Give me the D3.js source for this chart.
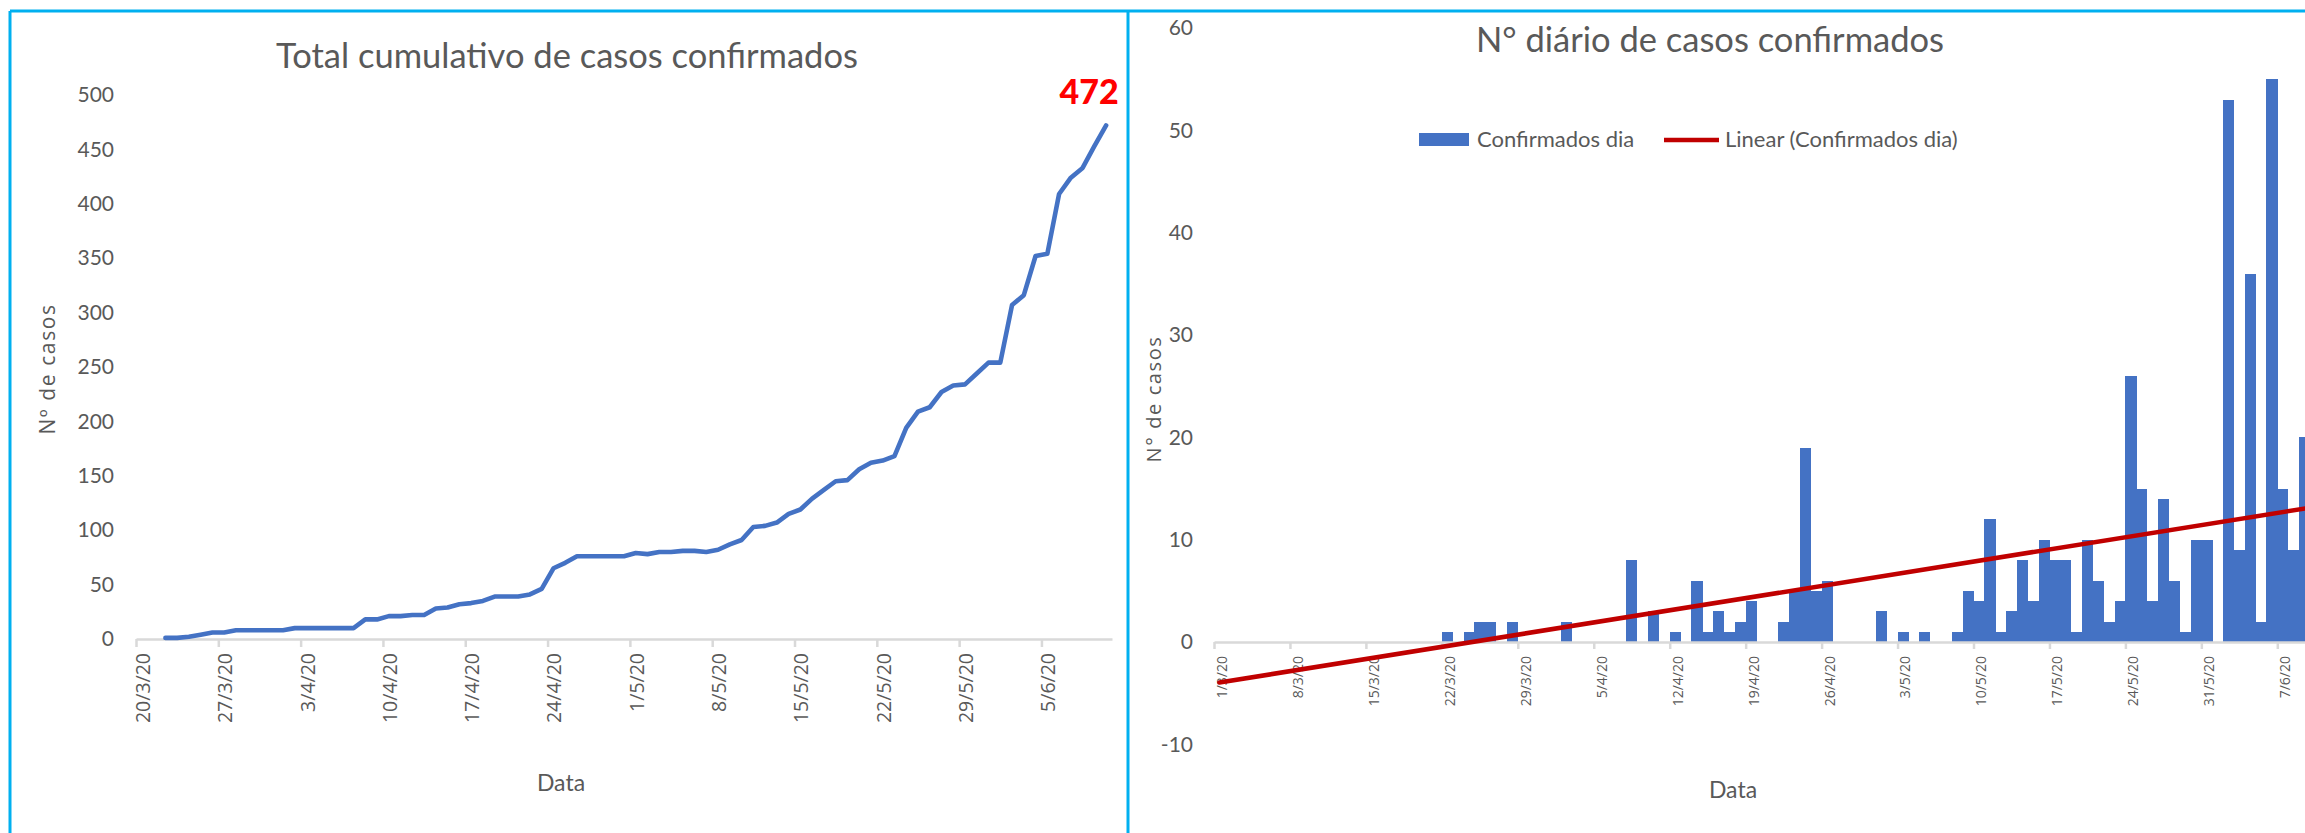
<!DOCTYPE html>
<html><head><meta charset="utf-8">
<script src="https://cdn.jsdelivr.net/npm/d3@7/dist/d3.min.js"></script>
<style>
body{margin:0;background:#fff}
svg{display:block}
</style>
</head><body>
<svg id="c" width="2305" height="833"></svg>
<script>
// ---------------- DATA ----------------
const leftTitle = "Total cumulativo de casos confirmados";
const rightTitle = "N\u00B0 di\u00E1rio de casos confirmados";
const leftYTitle = "N\u00BA de casos";
const rightYTitle = "N\u00B0 de casos";
const xTitle = "Data";
const seriesName = "Confirmados dia";
const trendName = "Linear (Confirmados dia)";

// cumulative confirmed cases, one value per day starting 22/3/2020
const cumulativeStart = "22/3/20";
const cumulativeCases = [
  1,1,2,4,6,6,8,8,8,8,
  8,10,10,10,10,10,10,18,18,21,
  21,22,22,28,29,32,33,35,39,39,
  39,41,46,65,70,76,76,76,76,76,
  79,78,80,80,81,81,80,82,87,91,
  103,104,107,115,119,129,137,145,146,156,
  162,164,168,194,209,213,227,233,234,244,
  254,254,307,316,352,354,409,424,433,453,
  472
];
const lastLabel = "472";

// daily confirmed cases, one value per day starting 1/3/2020
const dailyStart = "1/3/20";
const dailyCases = [
  0,0,0,0,0,0,0,0,0,0,
  0,0,0,0,0,0,0,0,0,0,
  0,1,0,1,2,2,0,2,0,0,
  0,0,2,0,0,0,0,0,8,0,
  3,0,1,0,6,1,3,1,2,4,
  0,0,2,5,19,5,6,0,0,0,
  0,3,0,1,0,1,0,0,1,5,
  4,12,1,3,8,4,10,8,8,1,
  10,6,2,4,26,15,4,14,6,1,
  10,10,0,53,9,36,2,55,15,9,
  20,19
];

const leftXTicks = ["20/3/20","27/3/20","3/4/20","10/4/20","17/4/20","24/4/20","1/5/20","8/5/20","15/5/20","22/5/20","29/5/20","5/6/20"];
const leftXEnd = "11/6/20";
const leftYTicks = [0,50,100,150,200,250,300,350,400,450,500];

const rightXTicks = ["1/3/20","8/3/20","15/3/20","22/3/20","29/3/20","5/4/20","12/4/20","19/4/20","26/4/20","3/5/20","10/5/20","17/5/20","24/5/20","31/5/20","7/6/20"];
const rightXEnd = "20/6/20";
const rightYTicks = [-10,0,10,20,30,40,50,60];

// ---------------- HELPERS ----------------
const DAY = 864e5;
function parseD(s){ const [d,m,y] = s.split("/").map(Number); return new Date(Date.UTC(2000+y, m-1, d)); }
const fmt = d3.utcFormat("%-d/%-m/%y");

const BLUE = "#4472C4", RED = "#C00000", GREY = "#595959", AXIS = "#D9D9D9", BORDER = "#00B0F0";
const CAL = "Lato, 'Open Sans', sans-serif";
const WIDE = "'Open Sans', 'DejaVu Sans', sans-serif";

const svg = d3.select("#c");
svg.append("rect").attr("width",2305).attr("height",833).attr("fill","#fff");

// ---------------- LEFT CHART ----------------
const cumData = cumulativeCases.map((v,i)=>({date:new Date(parseD(cumulativeStart).getTime()+i*DAY), value:v}));
const xL = d3.scaleUtc().domain([parseD(leftXTicks[0]), parseD(leftXEnd)]).range([136,1112]);
const yL = d3.scaleLinear().domain([0,500]).range([639,95]);
const halfL = (xL(new Date(DAY*1 + xL.domain()[0].getTime())) - xL.range()[0]) / 2;

const gL = svg.append("g");
// x axis
const axL = gL.append("g").attr("transform",`translate(0,${yL(0)})`)
  .call(d3.axisBottom(xL).tickValues(leftXTicks.map(parseD)).tickSize(8).tickSizeOuter(0).tickFormat(fmt));
axL.select(".domain").attr("stroke",AXIS).attr("stroke-width",2.5);
axL.selectAll(".tick line").attr("stroke",AXIS).attr("stroke-width",2.5);
axL.selectAll(".tick text")
  .attr("transform",`translate(${halfL},14) rotate(-90)`)
  .attr("x",0).attr("y",0).attr("dy",null)
  .attr("text-anchor","end").attr("dominant-baseline","central")
  .attr("fill",GREY).style("font-family",WIDE).style("font-size","19.5px");

// y axis
const ayL = gL.append("g").attr("transform","translate(122,0)")
  .call(d3.axisLeft(yL).tickValues(leftYTicks).tickSize(0).tickPadding(8).tickFormat(d=>String(d)));
ayL.select(".domain").remove();
ayL.selectAll(".tick text").attr("fill",GREY).style("font-family",CAL).style("font-size","21px");

// line
gL.append("path").datum(cumData)
  .attr("fill","none").attr("stroke",BLUE).attr("stroke-width",4.6)
  .attr("stroke-linejoin","round").attr("stroke-linecap","round")
  .attr("d", d3.line().x(d=>xL(d.date)+halfL).y(d=>yL(d.value)));

// last value label
const lastPt = cumData[cumData.length-1];
gL.append("text").attr("x", xL(lastPt.date)+halfL-17).attr("y", yL(lastPt.value)-21)
  .attr("text-anchor","middle").attr("fill","#FF0000")
  .style("font-family",CAL).style("font-weight","900").style("font-size","34px").text(lastLabel);

// titles
gL.append("text").attr("x",567).attr("y",68).attr("text-anchor","middle").attr("fill",GREY)
  .style("font-family",CAL).style("font-size","34.5px").text(leftTitle);
gL.append("text").attr("x",561).attr("y",791).attr("text-anchor","middle").attr("fill",GREY)
  .style("font-family",CAL).style("font-size","23px").text(xTitle);
gL.append("text").attr("transform","translate(47,369) rotate(-90)").attr("text-anchor","middle")
  .attr("dominant-baseline","central").attr("fill",GREY)
  .style("font-family",WIDE).style("font-size","21px").style("letter-spacing","1.6px").text(leftYTitle);

// ---------------- RIGHT CHART ----------------
const dayData = dailyCases.map((v,i)=>({date:new Date(parseD(dailyStart).getTime()+i*DAY), value:v, i:i}));
const x0R = parseD(rightXTicks[0]), x1R = parseD(rightXEnd);
const nDaysR = (x1R - x0R)/DAY;
const xR = d3.scaleUtc().domain([x0R, x1R]).range([1214, 1214 + nDaysR*10.85]);
const yR = d3.scaleLinear().domain([-10,60]).range([744.3, 28.2]);
const dayW = xR(new Date(x0R.getTime()+DAY)) - xR(x0R);

const gR = svg.append("g");
// bars
gR.append("g").selectAll("rect").data(dayData.filter(d=>d.value!==0)).join("rect")
  .attr("x", d=>xR(d.date))
  .attr("width", dayW+0.3)
  .attr("y", d=>yR(Math.max(0,d.value)))
  .attr("height", d=>Math.abs(yR(d.value)-yR(0)))
  .attr("fill", BLUE).attr("shape-rendering","crispEdges");

// x axis
const axR = gR.append("g").attr("transform",`translate(0,${yR(0)})`)
  .call(d3.axisBottom(xR).tickValues(rightXTicks.map(parseD)).tickSize(7).tickSizeOuter(0).tickFormat(fmt));
axR.select(".domain").attr("stroke",AXIS).attr("stroke-width",2.5);
axR.selectAll(".tick line").attr("stroke",AXIS).attr("stroke-width",2.5);
axR.selectAll(".tick text")
  .attr("transform",`translate(${dayW/2+1.5},14) rotate(-90)`)
  .attr("x",0).attr("y",0).attr("dy",null)
  .attr("text-anchor","end").attr("dominant-baseline","central")
  .attr("fill",GREY).style("font-family",WIDE).style("font-size","14px");

// trend line (least squares over the daily series)
const n = dayData.length;
const mx = d3.mean(dayData, d=>d.i), my = d3.mean(dayData, d=>d.value);
const sxy = d3.sum(dayData, d=>(d.i-mx)*(d.value-my));
const sxx = d3.sum(dayData, d=>(d.i-mx)*(d.i-mx));
const slope = sxy/sxx, icpt = my - slope*mx;
const trend = [dayData[0], dayData[n-1]].map(d=>({date:d.date, value:icpt+slope*d.i}));
gR.append("path").datum(trend)
  .attr("fill","none").attr("stroke",RED).attr("stroke-width",4.6).attr("stroke-linecap","round")
  .attr("d", d3.line().x(d=>xR(d.date)+dayW/2).y(d=>yR(d.value)));

// y axis
const ayR = gR.append("g").attr("transform","translate(1201,0)")
  .call(d3.axisLeft(yR).tickValues(rightYTicks).tickSize(0).tickPadding(8).tickFormat(d=>String(d)));
ayR.select(".domain").remove();
ayR.selectAll(".tick text").attr("fill",GREY).style("font-family",CAL).style("font-size","21px");

// titles
gR.append("text").attr("x",1710).attr("y",52).attr("text-anchor","middle").attr("fill",GREY)
  .style("font-family",CAL).style("font-size","34.5px").text(rightTitle);
gR.append("text").attr("x",1733).attr("y",798).attr("text-anchor","middle").attr("fill",GREY)
  .style("font-family",CAL).style("font-size","23px").text(xTitle);
gR.append("text").attr("transform","translate(1153,399) rotate(-90)").attr("text-anchor","middle")
  .attr("dominant-baseline","central").attr("fill",GREY)
  .style("font-family",WIDE).style("font-size","20px").style("letter-spacing","1.6px").text(rightYTitle);

// legend
const lg = gR.append("g");
lg.append("rect").attr("x",1419).attr("y",133).attr("width",50).attr("height",13).attr("fill",BLUE);
lg.append("text").attr("x",1477).attr("y",147).attr("fill",GREY)
  .style("font-family",CAL).style("font-size","22px").text(seriesName);
lg.append("line").attr("x1",1664).attr("x2",1719).attr("y1",140).attr("y2",140)
  .attr("stroke",RED).attr("stroke-width",4.6);
lg.append("text").attr("x",1725).attr("y",147).attr("fill",GREY)
  .style("font-family",CAL).style("font-size","22px").text(trendName);

// ---------------- BORDERS ----------------
const bd = svg.append("g").attr("stroke",BORDER).attr("stroke-width",3).attr("fill","none");
bd.append("line").attr("x1",10).attr("x2",2305).attr("y1",11).attr("y2",11);
bd.append("line").attr("x1",10).attr("x2",10).attr("y1",11).attr("y2",833);
bd.append("line").attr("x1",1128).attr("x2",1128).attr("y1",11).attr("y2",833);
</script>
</body></html>
